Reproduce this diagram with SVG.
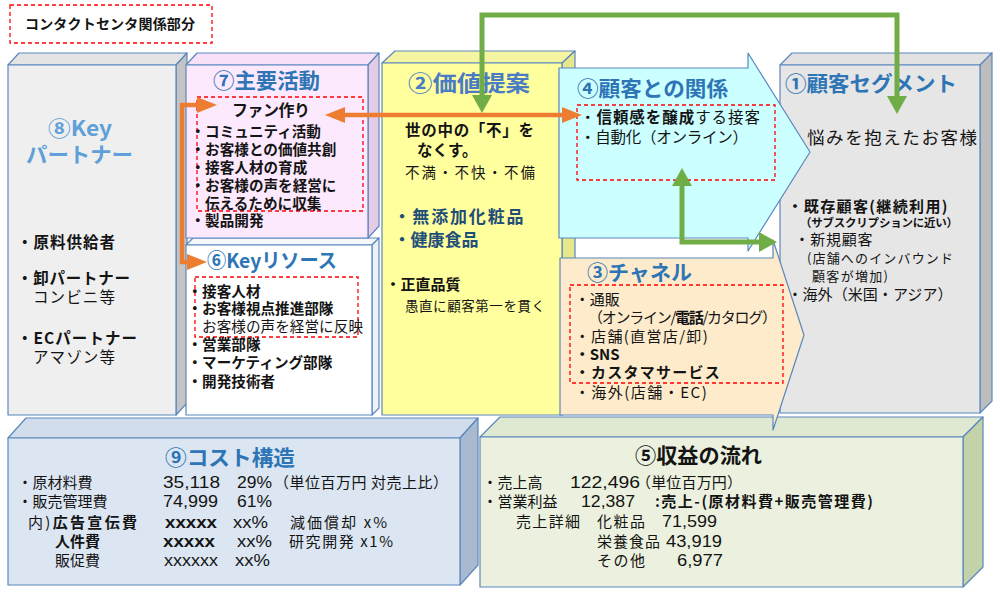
<svg xmlns="http://www.w3.org/2000/svg" width="1000" height="604" viewBox="0 0 1000 604">
<style>
text{font-family:"Noto Sans CJK JP","Noto Sans",sans-serif;fill:#141414}
.b{font-weight:bold}
.t{font-weight:bold;fill:#2e75b6;font-size:21px}
.e{stroke:#5b87bd;stroke-width:1.2;stroke-linejoin:round}
.d{fill:none;stroke:#ff0000;stroke-width:1.3;stroke-dasharray:4 3}
.s15{font-size:15px}
.n{font-size:16px;font-family:"Liberation Sans",Arial,sans-serif}
.s145{font-size:14.6px}
.co{fill:none;stroke:#ed7d31;stroke-width:4.5}
.cg{fill:none;stroke:#70ad47;stroke-width:5}
</style>
<defs>
<marker id="ao" markerUnits="userSpaceOnUse" markerWidth="20" markerHeight="16" refX="0" refY="8" orient="auto-start-reverse" overflow="visible"><path d="M0,0 L20,8 L0,16 z" fill="#ed7d31"/></marker>
<marker id="ag" markerUnits="userSpaceOnUse" markerWidth="18" markerHeight="20" refX="0" refY="10" orient="auto-start-reverse" overflow="visible"><path d="M0,0 L18,10 L0,20 z" fill="#70ad47"/></marker>
</defs>
<rect width="1000" height="604" fill="#ffffff"/>

<g id="key-partners">
<polygon class="e" points="8,65 19,53 187,53 176,65" fill="#e4e4e4"/>
<polygon class="e" points="176,65 187,53 187,403 176,415" fill="#c4c4c4"/>
<rect class="e" x="8" y="65" width="168" height="350" fill="#efefef"/>
<text x="48" y="136" class="b" font-size="21" style="fill:#5fa0d8" textLength="64" lengthAdjust="spacingAndGlyphs">⑧Key</text>
<text x="26" y="162" class="b" font-size="21" style="fill:#5fa0d8" textLength="107" lengthAdjust="spacingAndGlyphs">パートナー</text>
<text x="17" y="248" class="b" font-size="15.5" textLength="98">・原料供給者</text>
<text x="17" y="284" class="b" font-size="15.5" textLength="113">・卸パートナー</text>
<text x="33" y="303" font-size="15.5" textLength="82">コンビニ等</text>
<text x="17" y="344" class="b" font-size="15.5" textLength="120">・ECパートナー</text>
<text x="33" y="363" font-size="15.5" textLength="82">アマゾン等</text>
</g>

<g id="key-resources">
<polygon class="e" points="186,245 193,238 379,238 372,245" fill="#f4f7fb"/>
<polygon class="e" points="372,245 379,238 379,408 372,415" fill="#eef2f8"/>
<rect class="e" x="186" y="245" width="186" height="170" fill="#ffffff"/>
<text x="207" y="268" class="t" style="font-size:20px" textLength="130" lengthAdjust="spacingAndGlyphs">⑥Keyリソース</text>
<rect class="d" x="195" y="277" width="163" height="60"/>
<text x="187.5" y="297" class="b s145">・接客人材</text>
<text x="187.5" y="314" class="b s145">・お客様視点推進部隊</text>
<text x="202" y="332" class="s145" textLength="161">お客様の声を経営に反映</text>
<text x="187.5" y="350" class="b s145">・営業部隊</text>
<text x="187.5" y="368" class="b s145">・マーケティング部隊</text>
<text x="187.5" y="387" class="b s145">・開発技術者</text>
</g>

<g id="key-activities">
<polygon class="e" points="186,65 197,53 379,53 368,65" fill="#f8e0f8"/>
<polygon class="e" points="368,65 379,53 379,226 368,238" fill="#e6cbe6"/>
<rect class="e" x="186" y="65" width="182" height="173" fill="#fde9fd"/>
<text x="213" y="88" class="t" textLength="107" lengthAdjust="spacingAndGlyphs">⑦主要活動</text>
<rect class="d" x="197" y="97" width="166" height="114"/>
<text x="232" y="116" class="b" font-size="16" textLength="78">ファン作り</text>
<text x="190.5" y="137" class="b s145">・コミュニティ活動</text>
<text x="190.5" y="155" class="b s145">・お客様との価値共創</text>
<text x="190.5" y="173" class="b s145">・接客人材の育成</text>
<text x="190.5" y="191" class="b s145">・お客様の声を経営に</text>
<text x="205" y="209" class="b s145">伝えるために収集</text>
<text x="190.5" y="226" class="b s145">・製品開発</text>
</g>

<g id="value-proposition">
<polygon class="e" points="382,63 395,51 575,51 562,63" fill="#f4f4a2"/>
<polygon class="e" points="562,63 575,51 575,403 562,415" fill="#e6e68a"/>
<rect class="e" x="382" y="63" width="180" height="352" fill="#ffff9e"/>
<text x="408" y="91" class="t" style="font-size:22px;fill:#4a7cc4" textLength="122" lengthAdjust="spacingAndGlyphs">②価値提案</text>
<text x="405" y="136" class="b" font-size="15.5" textLength="129">世の中の「不」を</text>
<text x="417" y="156" class="b" font-size="15.5">なくす。</text>
<text x="405" y="178" font-size="14.5" textLength="130">不満・不快・不備</text>
<text x="393.5" y="223" class="b" font-size="17" style="fill:#1f4e79" textLength="130">・無添加化粧品</text>
<text x="393.5" y="246" class="b" font-size="17" style="fill:#1f4e79">・健康食品</text>
<text x="385.5" y="290" class="b s15">・正直品質</text>
<text x="405" y="311" font-size="13.5" textLength="140">愚直に顧客第一を貫く</text>
</g>

<g id="customer-segments">
<polygon class="e" points="780,65 792,53 992,53 980,65" fill="#e2e2e2"/>
<polygon class="e" points="980,65 992,53 992,401 980,413" fill="#bdbdbd"/>
<rect class="e" x="780" y="65" width="200" height="348" fill="#e6e6e6"/>
<text x="785" y="91" class="t" textLength="172" lengthAdjust="spacingAndGlyphs">①顧客セグメント</text>
<text x="807" y="144" font-size="17.5" textLength="170">悩みを抱えたお客様</text>
<text x="787.5" y="212" class="b s15" textLength="160">・既存顧客(継続利用)</text>
<text x="800" y="227" class="b" font-size="11.5" textLength="158">（サブスクリプションに近い）</text>
<text x="794.5" y="245" class="s15" textLength="78">・新規顧客</text>
<text x="807" y="263" font-size="13" textLength="146">(店舗へのインバウンド</text>
<text x="812" y="281" font-size="13" textLength="76">顧客が増加)</text>
<text x="787.5" y="300" class="s15" textLength="165">・海外（米国・アジア）</text>
</g>

<g id="cost-structure">
<polygon class="e" points="8,438 26,418 478,418 460,438" fill="#d2ddec"/>
<polygon class="e" points="460,438 478,418 478,565 460,585" fill="#a9b9d0"/>
<rect class="e" x="8" y="438" width="452" height="147" fill="#dce6f2"/>
<text x="165" y="465" class="t" textLength="130" lengthAdjust="spacingAndGlyphs">⑨コスト構造</text>
<text x="17.5" y="487.5" class="s15">・原材料費</text>
<text x="163" y="488" class="n" textLength="57" lengthAdjust="spacingAndGlyphs">35,118</text>
<text x="237" y="488" class="n" textLength="35" lengthAdjust="spacingAndGlyphs">29%</text>
<text x="274" y="487.5" class="s15" textLength="174">（単位百万円 対売上比）</text>
<text x="17.5" y="506.5" class="s15">・販売管理費</text>
<text x="163" y="507" class="n" textLength="55" lengthAdjust="spacingAndGlyphs">74,999</text>
<text x="237" y="507" class="n" textLength="35" lengthAdjust="spacingAndGlyphs">61%</text>
<text x="28" y="527.5" class="s15" textLength="109">内)<tspan class="b">広告宣伝費</tspan></text>
<text x="165" y="527.5" class="n b" textLength="52" lengthAdjust="spacingAndGlyphs">xxxxx</text>
<text x="233" y="527.5" class="n" textLength="35" lengthAdjust="spacingAndGlyphs">xx%</text>
<text x="290" y="527.5" class="s15" textLength="97">減価償却 x%</text>
<text x="55" y="546.5" class="s15 b">人件費</text>
<text x="163" y="546.5" class="n b" textLength="52" lengthAdjust="spacingAndGlyphs">xxxxx</text>
<text x="237" y="546.5" class="n" textLength="35" lengthAdjust="spacingAndGlyphs">xx%</text>
<text x="289" y="546.5" class="s15" textLength="104">研究開発 x1%</text>
<text x="55" y="565.5" class="s15">販促費</text>
<text x="164" y="565.5" class="n" textLength="54" lengthAdjust="spacingAndGlyphs">xxxxxx</text>
<text x="235" y="565.5" class="n" textLength="35" lengthAdjust="spacingAndGlyphs">xx%</text>
</g>

<g id="revenue-streams">
<polygon class="e" points="480,437 500,417 983,417 963,437" fill="#dfe8d0"/>
<polygon class="e" points="963,437 983,417 983,567 963,587" fill="#c3d2a8"/>
<rect class="e" x="480" y="437" width="483" height="150" fill="#ebf1de"/>
<text x="635" y="463" class="b" font-size="21" textLength="127" lengthAdjust="spacingAndGlyphs">⑤収益の流れ</text>
<text x="482.5" y="487.5" class="s15">・売上高</text>
<text x="570" y="488" class="n" textLength="70" lengthAdjust="spacingAndGlyphs">122,496</text>
<text x="636" y="487.5" class="s15" textLength="106">（単位百万円）</text>
<text x="482.5" y="506.5" class="s15">・営業利益</text>
<text x="581" y="507" class="n" textLength="54" lengthAdjust="spacingAndGlyphs">12,387</text>
<text x="655" y="506.5" class="s15 b" textLength="218">:売上-(原材料費+販売管理費)</text>
<text x="516" y="526.5" class="s15" textLength="64">売上詳細</text>
<text x="597" y="526.5" class="s15" textLength="48">化粧品</text>
<text x="662" y="527" class="n" textLength="55" lengthAdjust="spacingAndGlyphs">71,599</text>
<text x="597" y="546.5" class="s15" textLength="63">栄養食品</text>
<text x="666" y="547" class="n" textLength="56" lengthAdjust="spacingAndGlyphs">43,919</text>
<text x="597" y="565.5" class="s15" textLength="48">その他</text>
<text x="677" y="566" class="n" textLength="46" lengthAdjust="spacingAndGlyphs">6,977</text>
</g>

<g id="customer-relationships">
<path class="e" d="M559,68 H748 V53 L810,152 L748,251 V238 H559 Z" fill="#ccffff"/>
<text x="577" y="96" class="t" textLength="151" lengthAdjust="spacingAndGlyphs">④顧客との関係</text>
<rect class="d" x="577" y="105" width="198" height="75"/>
<text x="580" y="123" font-size="15.5" textLength="180">・<tspan class="b">信頼感を醸成</tspan>する接客</text>
<text x="580" y="143" font-size="15.5" textLength="168">・自動化（オンライン）</text>
</g>

<g id="channels">
<path class="e" d="M560,258 H773 V240 L804,335 L773,430 V415 H560 Z" fill="#fdebcc"/>
<text x="587" y="280" class="t" textLength="105" lengthAdjust="spacingAndGlyphs">③チャネル</text>
<rect class="d" x="570" y="285" width="213" height="98"/>
<text x="574.75" y="305" class="s15">・通販</text>
<text x="588" y="323" class="s15" textLength="189">（オンライン/<tspan class="b">電話</tspan>/カタログ）</text>
<text x="574.75" y="342" class="s15" textLength="133">・店舗(直営店/卸)</text>
<text x="574.75" y="360" class="s15 b">・SNS</text>
<text x="574.75" y="378" class="s15 b" textLength="145">・カスタマサービス</text>
<text x="574.75" y="398" class="s15" textLength="132">・海外(店舗・EC)</text>
</g>

<g id="connectors">
<path class="co" d="M197,105 H182 V262 H187" marker-start="url(#ao)" marker-end="url(#ao)"/>
<path class="co" d="M345,115 H562" marker-start="url(#ao)" marker-end="url(#ao)"/>
<path class="cg" d="M482,95 V15 H897 V96" marker-start="url(#ag)" marker-end="url(#ag)"/>
<path class="cg" d="M682,186 V242 H759" marker-start="url(#ag)" marker-end="url(#ag)"/>
</g>

<g id="legend">
<rect class="d" x="10" y="5" width="202" height="38"/>
<text x="25" y="29" class="b" font-size="14" textLength="170">コンタクトセンタ関係部分</text>
</g>
</svg>
